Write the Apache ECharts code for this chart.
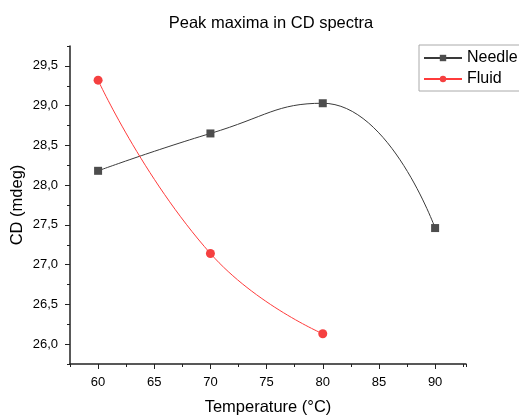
<!DOCTYPE html>
<html><head><meta charset="utf-8">
<script src="https://cdn.jsdelivr.net/npm/echarts@6/dist/echarts.min.js"></script>
<style>html,body{margin:0;padding:0;background:#fff}#c{width:519px;height:415px}</style>
</head><body><div id="c"></div>
<script>
const temperatures = [60, 70, 80, 90];
const needleValues = [28.18, 28.65, 29.03, 27.46];
const fluidTemps = [60, 70, 80];
const fluidValues = [29.32, 27.14, 26.13];
const xMajorTicks = [60, 65, 70, 75, 80, 85, 90];
const yMajorTicks = [26.0, 26.5, 27.0, 27.5, 28.0, 28.5, 29.0, 29.5];

const FONT = 'Liberation Sans, Arial, sans-serif';
const chart = echarts.init(document.getElementById('c'), null, {renderer: 'canvas'});
const axisColor = '#222';
const xMin = 57.5, xMax = 92.75, yMin = 25.75, yMax = 29.75;

chart.setOption({
  animation: false,
  title: {
    text: 'Peak maxima in CD spectra', left: 266, top: 10, textAlign: 'center',
    textStyle: {fontFamily: FONT, fontSize: 16.5, fontWeight: 'normal', color: '#000'}
  },
  legend: {
    orient: 'vertical', left: 419, top: 45, padding: [5, 6, 4, 4], itemGap: 5,
    itemWidth: 38, itemHeight: 8, borderColor: '#aaa', borderWidth: 1,
    textStyle: {fontFamily: FONT, fontSize: 16, color: '#000'},
    data: ['Needle', 'Fluid']
  },
  grid: {left: 70, right: 53, top: 46, bottom: 51, containLabel: false, outerBoundsMode: 'none'},
  xAxis: [{
    type: 'value', min: xMin, max: xMax,
    name: 'Temperature (°C)', nameLocation: 'middle', nameGap: 35, nameMoveOverlap: false,
    nameTextStyle: {fontFamily: FONT, fontSize: 16.5, color: '#000'},
    axisLine: {lineStyle: {color: axisColor, width: 1.5}},
    axisTick: {customValues: xMajorTicks, length: 5, lineStyle: {color: axisColor, width: 1}},
    axisLabel: {customValues: xMajorTicks, fontFamily: FONT, fontSize: 13, color: '#000', margin: 12},
    splitLine: {show: false}
  }, {
    type: 'value', min: xMin, max: xMax, interval: 2.5, position: 'bottom',
    axisLine: {show: false}, axisLabel: {show: false}, splitLine: {show: false},
    axisTick: {length: 3, lineStyle: {color: axisColor, width: 1}}
  }],
  yAxis: [{
    type: 'value', min: yMin, max: yMax,
    name: 'CD (mdeg)', nameLocation: 'middle', nameGap: 44, nameMoveOverlap: false,
    nameTextStyle: {fontFamily: FONT, fontSize: 16.5, color: '#000'},
    axisLine: {lineStyle: {color: axisColor, width: 1.5}},
    axisTick: {customValues: yMajorTicks, length: 5, lineStyle: {color: axisColor, width: 1}},
    axisLabel: {customValues: yMajorTicks, fontFamily: FONT, fontSize: 13, color: '#000', margin: 12,
      formatter: v => v.toFixed(1).replace('.', ',')},
    splitLine: {show: false}
  }, {
    type: 'value', min: yMin, max: yMax, interval: 0.25, position: 'left',
    axisLine: {show: false}, axisLabel: {show: false}, splitLine: {show: false},
    axisTick: {length: 3, lineStyle: {color: axisColor, width: 1}}
  }],
  series: [{
    name: 'Needle', type: 'line', smooth: 0.5,
    data: temperatures.map((t, i) => [t, needleValues[i]]),
    symbol: 'rect', symbolSize: 8,
    lineStyle: {color: '#3a3a3a', width: 1},
    itemStyle: {color: '#4d4d4d'}
  }, {
    name: 'Fluid', type: 'line', smooth: 0.5,
    data: fluidTemps.map((t, i) => [t, fluidValues[i]]),
    symbol: 'circle', symbolSize: 9,
    lineStyle: {color: '#ff3b3b', width: 1},
    itemStyle: {color: '#f54040'}
  }]
});
</script></body></html>
